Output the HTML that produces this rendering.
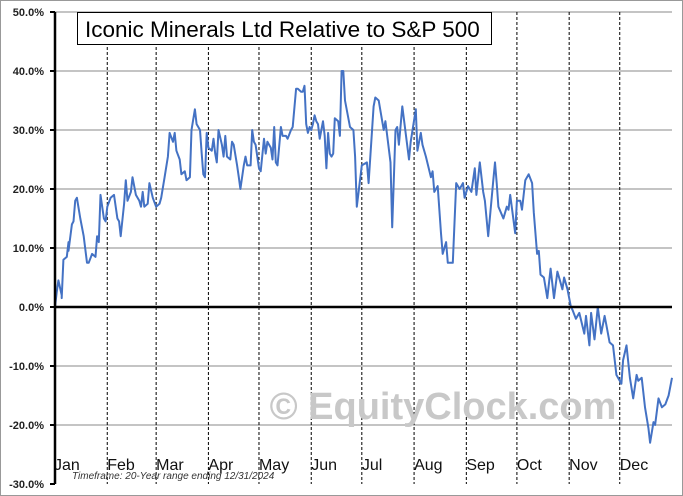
<!DOCTYPE html>
<html><head><meta charset="utf-8"><style>
html,body{margin:0;padding:0;background:#fff;}
svg{display:block;font-family:"Liberation Sans",sans-serif;}
</style></head><body>
<svg id="chart" width="683" height="496" viewBox="0 0 683 496">
<rect x="0.5" y="0.5" width="682" height="495" fill="#fff" stroke="#999"/>
<g id="grid"></g>
<g id="months"></g>
<text x="443" y="419" text-anchor="middle" font-size="38" font-weight="bold" fill="#c8c8c8">© EquityClock.com</text>
<g id="ylabels"></g>
<g id="xlabels"></g>
<path id="line" fill="none" stroke="#4472c4" stroke-width="2" stroke-linejoin="round"/>
<line x1="55" y1="12" x2="55" y2="484" stroke="#000" stroke-width="2.5"/>
<line id="zero" x1="55" x2="672" stroke="#000" stroke-width="2.5"/>
<rect x="77.5" y="12.5" width="414" height="32" fill="#fff" stroke="#000"/>
<text x="85" y="37" font-size="22.5" fill="#000">Iconic Minerals Ltd Relative to S&amp;P 500</text>
<text x="72" y="479" font-size="10" font-style="italic" fill="#333">Timeframe: 20-Year range ending 12/31/2024</text>
</svg>
<script>
const yTicks=[50,40,30,20,10,0,-10,-20,-30];
const monthNames=["Jan","Feb","Mar","Apr","May","Jun","Jul","Aug","Sep","Oct","Nov","Dec"];
const monthStartDays=[0,31,60,91,121,152,182,213,244,274,305,335];
const days=[0,1,2,4,4,5,7,8,8,10,11,12,13,15,17,19,20,22,24,25,26,27,29,30,31,33,35,37,38,39,41,42,43,45,46,48,50,51,52,53,55,56,58,60,62,63,65,67,68,70,71,72,74,75,77,78,80,81,83,84,86,87,88,89,90,91,93,94,95,96,97,99,100,101,102,104,105,106,108,109,110,112,113,114,116,117,118,119,121,122,124,125,126,128,129,130,131,132,134,135,137,138,140,141,143,144,146,147,148,149,150,151,152,153,154,155,156,157,159,160,161,162,163,164,165,166,168,169,170,171,172,175,177,178,179,182,185,186,189,190,192,195,196,199,200,202,203,204,206,210,211,214,215,217,218,220,223,224,225,227,229,230,232,233,236,238,240,242,243,245,247,249,250,252,254,255,257,260,261,262,263,266,268,269,270,273,274,276,277,279,281,283,284,286,287,288,290,292,294,296,298,299,301,302,304,306,307,309,311,314,315,317,318,320,322,324,326,327,329,331,333,336,337,339,341,343,345,346,348,350,352,353,355,356,358,360,362,364,366];
const values=[0,2.5,4.5,2,1.5,8,8.5,11,9.5,14,14.5,18,18.5,15,12,7.5,7.5,9,8.5,12,11,19,15,14.5,17,18.5,19,15,14.5,12,17.5,21.5,18,19.5,22,19,18,17,19.5,17,17.5,21,18.5,17,17.5,18.5,22,25.5,29.5,28,29.5,26.5,25,22.5,23,21.5,22,30,33.5,31,30,26,22.5,22,29.5,27,26.5,28.5,26,24.5,30,27.5,25.5,29,25.5,25,28,27.5,24,22,20,24,25.5,24,24,30,28,27.5,23.5,23,28.5,26,28,27,25,30.5,24.5,24,30.5,29,29,28.5,30,30.5,37,37,36.5,36.5,37.5,31,29.5,30.5,30,31,32.5,31.5,31,28.5,31.5,29,23.5,29.5,26,25.5,26,32,31.5,29,40,40,35,30.5,30,25.5,17,24,24.5,21,34,35.5,35,30,31.5,24.5,13.5,30,30.5,27.5,34,25,28,33.5,26.5,29.5,27.5,25.5,22,23,19.5,20.5,12.5,9,11,7.5,7.5,21,20,21,18.5,20.5,19.5,23.5,19,24.5,19.5,18,12,21.5,24.5,21,17,15,17,16.5,19,12.5,18,18,16.5,21.5,22.5,21,16,9,9.5,5.5,5,1.5,6.5,1.5,6,5,3,5,3,0,-0.5,-2,-1,-4.5,-1.5,-6.5,-1,-5.5,0,-4.5,-1.5,-3,-6,-6.5,-11.5,-13,-9,-6.5,-12,-15.5,-11.5,-12.5,-12,-17,-20.5,-23,-19.5,-20,-15.5,-17,-16.5,-15,-12];
const NS="http://www.w3.org/2000/svg";
const X0=55,X1=672,Y0=12,Y1=484;
function xs(d){return X0+(X1-X0)*d/366;}
function ys(v){return Y0+(50-v)*(Y1-Y0)/80;}
function mk(tag,attrs,parent){const e=document.createElementNS(NS,tag);for(const k in attrs)e.setAttribute(k,attrs[k]);parent.appendChild(e);return e;}
const grid=document.getElementById('grid'),yl=document.getElementById('ylabels');
yTicks.forEach(t=>{
  const y=ys(t);
  if(t!==0&&t!==-30){const l=mk('line',{x1:X0,x2:X1,y1:y,y2:y,stroke:'#888','stroke-width':1},grid);
  
  }
  const tk=mk('line',{x1:X0-5,x2:X0,y1:y,y2:y,stroke:'#000','stroke-width':2},grid);
  
  
  const tx=mk('text',{x:44,y:y+4,'text-anchor':'end','font-size':11,'font-weight':'bold',fill:'#222'},yl);
  tx.textContent=t.toFixed(1)+'%';
  
  
});
document.getElementById('zero').setAttribute('y1',ys(0));
document.getElementById('zero').setAttribute('y2',ys(0));
const mg=document.getElementById('months'),xl=document.getElementById('xlabels');
monthNames.forEach((m,i)=>{
  const x=xs(monthStartDays[i]);
  if(i>0){const l=mk('line',{x1:x,x2:x,y1:Y0,y2:Y1,stroke:'#000','stroke-width':1,'stroke-dasharray':'3,2'},mg);
  
  }
  const tx=mk('text',{x:(i===0?54:x),y:470,'font-size':16,fill:'#111'},xl);
  tx.textContent=m;
  
  
});
document.getElementById('line').setAttribute('d',days.map((d,i)=>(i?'L':'M')+xs(d).toFixed(1)+','+ys(values[i]).toFixed(1)).join(''));
</script>
</body></html>
